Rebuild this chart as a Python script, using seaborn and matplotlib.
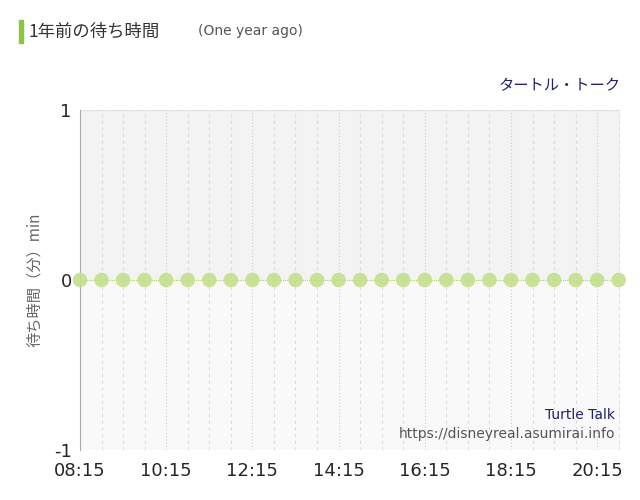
import numpy as np
import pandas as pd
import matplotlib.pyplot as plt
import seaborn as sns

# half-hourly slots 08:15 - 20:45
times = ['08:15', '08:45', '09:15', '09:45', '10:15', '10:45', '11:15', '11:45',
         '12:15', '12:45', '13:15', '13:45', '14:15', '14:45', '15:15', '15:45',
         '16:15', '16:45', '17:15', '17:45', '18:15', '18:45', '19:15', '19:45',
         '20:15', '20:45']
wait = [0] * len(times)
tick_labels = ['08:15', '10:15', '12:15', '14:15', '16:15', '18:15', '20:15']

def to_min(t):
    h, m = t.split(':')
    return int(h) * 60 + int(m)

df = pd.DataFrame({'t': [to_min(t) for t in times], 'wait': wait})

sns.set_style('white')
plt.rcParams['font.family'] = ['Noto Sans CJK JP', 'DejaVu Sans']

fig = plt.figure(figsize=(6.4, 5), dpi=100)
ax = fig.add_axes([0.125, 0.1, 0.844, 0.68])

x0, x1 = df['t'].min(), df['t'].max()
ax.set_xlim(x0, x1 + 2)
ax.set_ylim(-1, 1)
ax.axhspan(0, 1, color='#f3f3f3', zorder=0)
ax.axhspan(-1, 0, color='#f9f9f9', zorder=0)

for t in df['t']:
    if (t - x0) % 120 == 0:
        ax.axvline(t, color='#cccccc', lw=0.8, ls=(0, (1, 2)), zorder=1)
    else:
        ax.axvline(t, color='#dddddd', lw=0.8, ls=(0, (3, 3)), zorder=1)
ax.axhline(1, color='#cccccc', lw=0.8, ls=(0, (1, 1)))
ax.axhline(0, color='#a8cf5a', lw=0.8, ls=(0, (1, 1)), zorder=2)

sns.scatterplot(data=df, x='t', y='wait', ax=ax, s=110, color='#c4e08e',
                edgecolor='none', alpha=0.9, zorder=3, clip_on=False)

ax.set_xticks([to_min(t) for t in tick_labels])
ax.set_xticklabels(tick_labels, fontsize=13, family='DejaVu Sans')
ax.set_yticks([-1, 0, 1])
ax.set_yticklabels(['-1', '0', '1'], fontsize=13, family='DejaVu Sans')
ax.tick_params(axis='y', length=0, pad=6)
ax.tick_params(axis='x', length=0, pad=9)
for s in ['top', 'right', 'bottom']:
    ax.spines[s].set_visible(False)
ax.spines['left'].set_color('#aaaaaa')
ax.set_xlabel('')
ax.set_ylabel('待ち時間（分）min', fontsize=11, color='#666666', labelpad=8)

fig.patches.append(plt.Rectangle((0.03, 0.915), 0.006, 0.045, transform=fig.transFigure,
                                 color='#8cc63f'))
fig.text(0.045, 0.937, '1年前の待ち時間', fontsize=12.5, va='center', color='#333333')
fig.text(0.31, 0.937, '(One year ago)', fontsize=10, va='center', color='#555555',
         family='DejaVu Sans')
fig.text(0.97, 0.828, 'タートル・トーク', fontsize=11, ha='right', va='center', color='#222266')
ax.text(0.99, 0.09, 'Turtle Talk', transform=ax.transAxes, ha='right', fontsize=10,
        color='#222266', family='DejaVu Sans')
ax.text(0.99, 0.035, 'https://disneyreal.asumirai.info', transform=ax.transAxes,
        ha='right', fontsize=10, color='#555555', family='DejaVu Sans')

fig.savefig('out.png', dpi=100)
